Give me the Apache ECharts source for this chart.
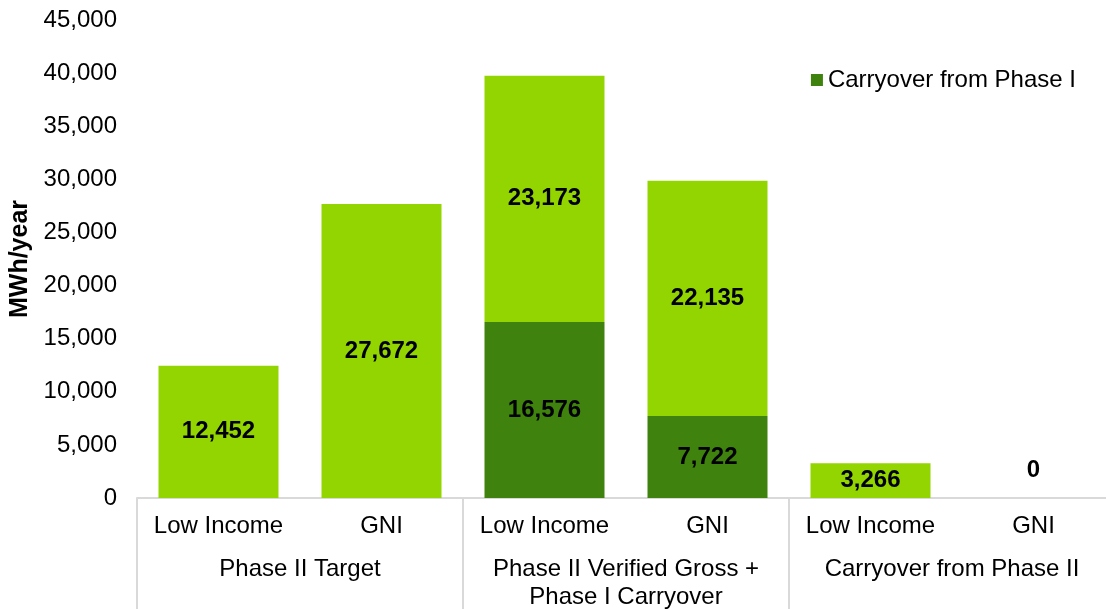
<!DOCTYPE html>
<html>
<head>
<meta charset="utf-8">
<script src="https://cdn.jsdelivr.net/npm/echarts@6/dist/echarts.min.js"></script>
<style>
  html, body { margin: 0; padding: 0; background: #fff; }
  #chart { width: 1106px; height: 609px; }
</style>
</head>
<body>
<div id="chart"></div>
<script>
// data
var categories = ['Low Income', 'GNI', 'Low Income', 'GNI', 'Low Income', 'GNI']
var groups = ['Phase II Target', 'Phase II Verified Gross +\nPhase I Carryover', 'Carryover from Phase II']
var carryover = [0, 0, 16576, 7722, 0, 0]
var phaseTwo = [12452, 27672, 23173, 22135, 3266, 0]

var chart = echarts.init(document.getElementById('chart'))
var font = 'Liberation Sans, Arial, sans-serif'

var fmt = function (v) {
  return Number(v).toLocaleString('en-US')
}

// the zero bar has its label above the axis
var lightData = phaseTwo.map(function (v) {
  if (v === 0) {
    return { value: v, label: { position: 'top', distance: 16 } }
  }
  return v
})

var options = {
  animation: false,
  textStyle: { fontFamily: font },
  legend: {
    data: ['Carryover from Phase I'],
    right: 25,
    top: 63,
    itemWidth: 12,
    itemHeight: 12,
    itemGap: 6,
    icon: 'rect',
    textStyle: { fontSize: 24, color: '#000', fontFamily: font }
  },
  grid: {
    left: 137,
    width: 978,
    top: 20,
    bottom: 111,
    outerBoundsMode: 'none'
  },
  xAxis: [{
    type: 'category',
    data: categories,
    position: 'bottom',
    axisLine: { lineStyle: { color: '#d9d9d9', width: 2 } },
    axisTick: { show: false },
    axisLabel: { interval: 0, fontSize: 24, color: '#000', margin: 16, fontFamily: font }
  }, {
    type: 'category',
    data: groups,
    position: 'bottom',
    axisLine: { show: false },
    axisTick: { show: true, length: 112, lineStyle: { color: '#d9d9d9', width: 2 } },
    axisLabel: { interval: 0, fontSize: 24, color: '#000', margin: 57, lineHeight: 28, fontFamily: font }
  }],
  yAxis: {
    type: 'value',
    min: 0,
    max: 45000,
    interval: 5000,
    name: 'MWh/year',
    nameLocation: 'middle',
    nameGap: 100,
    nameTextStyle: { fontSize: 25, fontWeight: 'bold', color: '#000', fontFamily: font },
    axisLine: { show: false },
    axisTick: { show: false },
    splitLine: { show: false },
    axisLabel: {
      fontSize: 24,
      color: '#000',
      margin: 20,
      fontFamily: font,
      formatter: fmt
    }
  },
  series: [{
    name: 'Carryover from Phase I',
    type: 'bar',
    stack: 'total',
    barWidth: 120,
    data: carryover,
    itemStyle: { color: '#3f820d' },
    label: {
      show: true,
      position: 'inside',
      fontSize: 24,
      fontWeight: 'bold',
      color: '#000',
      fontFamily: font,
      formatter: function (p) { return p.value ? fmt(p.value) : '' }
    }
  }, {
    name: 'Phase II',
    type: 'bar',
    stack: 'total',
    barWidth: 120,
    data: lightData,
    itemStyle: { color: '#93d500' },
    label: {
      show: true,
      position: 'inside',
      fontSize: 24,
      fontWeight: 'bold',
      color: '#000',
      fontFamily: font,
      formatter: function (p) { return fmt(p.value) }
    }
  }]
}

chart.setOption(options)
</script>
</body>
</html>
